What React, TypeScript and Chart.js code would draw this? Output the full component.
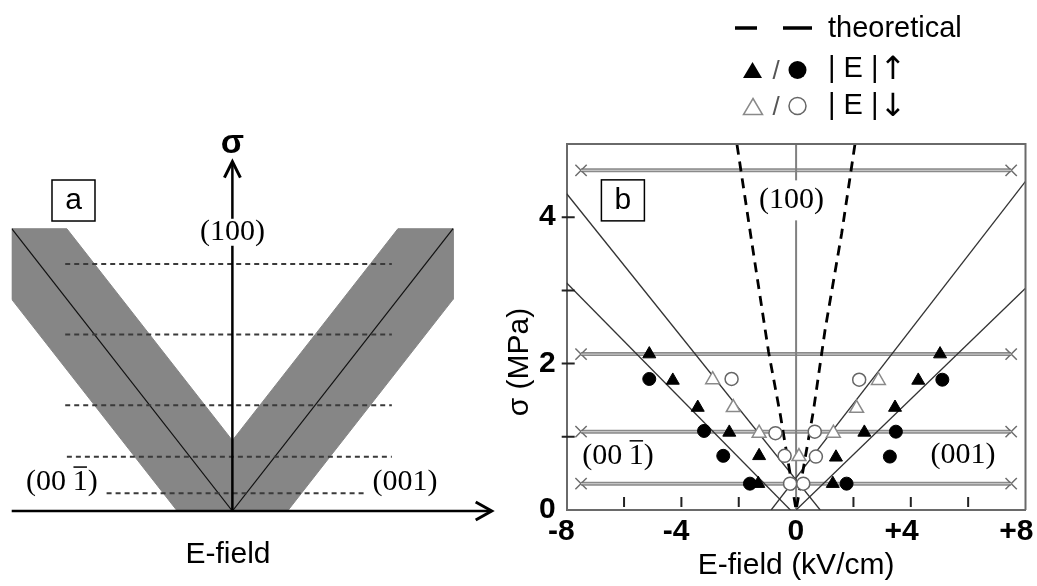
import React, { useEffect, useRef } from 'react';
import { Chart, registerables } from 'chart.js';

Chart.register(...registerables);

const SANS = "'Liberation Sans', Arial, sans-serif";
const SERIF = "'Liberation Serif', 'Times New Roman', serif";

// ================= Panel (a): schematic =================
const schemeBandE = [-4, -3, 0, 3, 4, 4, 1, -1, -4, -4];
const schemeBandSigma = [4, 4, 1, 4, 4, 3, 0, 0, 3, 4];
const schemeCenterLeftE = [-4, 0];
const schemeCenterLeftSigma = [4, 0];
const schemeCenterRightE = [0, 4];
const schemeCenterRightSigma = [0, 4];
const schemeLevelSigma = [3.5, 2.5, 1.5, 0.77, 0.25];
const schemeLevelFrom = [-3.03, -3.03, -3.03, -3.0, -2.28];
const schemeLevelTo = [2.89, 2.89, 2.89, 2.89, 2.41];

// ================= Panel (b): measurements =================
const xTickValues = [-8, -4, 0, 4, 8];
const xTickLabels = ['-8', '-4', '0', '+4', '+8'];
const yTickValues = [0, 2, 4];
const yTickLabels = ['0', '2', '4'];
const xMinorTicks = [-6, -4, -2, 2, 4, 6];
const yMinorTicks = [1, 2, 3, 4];

const stressLevels = [0.36, 1.07, 2.13, 4.64];
const stressLevelSpan = [-7.5, 7.5];

// |E| increasing
const riseTriE = [-5.12, -4.3, -3.43, -2.33, -1.29, -1.32, 5.02, 4.26, 3.45, 2.38, 1.39, 1.28];
const riseTriSigma = [2.13, 1.77, 1.4, 1.06, 0.74, 0.36, 2.13, 1.77, 1.4, 1.06, 0.72, 0.36];
const riseCircE = [-5.12, -3.21, -2.54, -1.61, 5.1, 3.48, 3.27, 1.76];
const riseCircSigma = [1.79, 1.08, 0.74, 0.36, 1.78, 1.07, 0.73, 0.36];
// |E| decreasing
const fallTriE = [-2.91, -2.19, -1.29, 0.1, 2.87, 2.11, 1.3];
const fallTriSigma = [1.78, 1.4, 1.05, 0.73, 1.77, 1.39, 1.05];
const fallCircE = [-2.25, -0.72, -0.4, -0.21, 2.2, 0.65, 0.69, 0.25];
const fallCircSigma = [1.79, 1.05, 0.74, 0.36, 1.78, 1.07, 0.73, 0.36];

// fitted boundaries
const fitOuterLeftE = [-8, 0.84];
const fitOuterLeftSigma = [4.32, 0];
const fitOuterRightE = [-0.87, 8];
const fitOuterRightSigma = [0, 4.49];
const fitInnerLeftE = [-8, -0.2];
const fitInnerLeftSigma = [3.1, 0];
const fitInnerRightE = [0, 8];
const fitInnerRightSigma = [0, 3.03];

// theoretical
const theoryLeftE = [-2.06, -1.57, -0.96, -0.55, 0];
const theoryLeftSigma = [4.99, 3.72, 2.16, 1.3, 0];
const theoryRightE = [2.05, 1.59, 1.01, 0.61, 0];
const theoryRightSigma = [4.99, 3.78, 2.46, 1.37, 0];

const pts = (xs: number[], ys: number[]) => xs.map((x, i) => ({ x, y: ys[i] }));

// ---------- helpers ----------
function drawBarredIndex(ctx: CanvasRenderingContext2D, cx: number, cy: number, size: number) {
  ctx.save();
  ctx.fillStyle = '#000';
  ctx.font = `${size}px ${SERIF}`;
  ctx.textAlign = 'left';
  ctx.textBaseline = 'middle';
  const p1 = '(00';
  const p2 = '1';
  const p3 = ')';
  const gap = size * 0.22;
  const w1 = ctx.measureText(p1).width;
  const w2 = ctx.measureText(p2).width;
  const w3 = ctx.measureText(p3).width;
  const total = w1 + gap + w2 + w3;
  const x0 = cx - total / 2;
  ctx.fillText(p1, x0, cy);
  const x1 = x0 + w1 + gap;
  ctx.fillText(p2, x1, cy);
  ctx.fillText(p3, x1 + w2, cy);
  ctx.lineWidth = 1.5;
  ctx.strokeStyle = '#000';
  ctx.beginPath();
  const by = cy - size * 0.5;
  ctx.moveTo(x1 + w2 * 0.05, by);
  ctx.lineTo(x1 + w2 * 0.95, by);
  ctx.stroke();
  ctx.restore();
}

function labelWithBox(ctx: CanvasRenderingContext2D, text: string, cx: number, cy: number, font: string, w: number, h: number, stroke: boolean) {
  ctx.save();
  ctx.fillStyle = '#fff';
  ctx.fillRect(cx - w / 2, cy - h / 2, w, h);
  if (stroke) {
    ctx.strokeStyle = '#000';
    ctx.lineWidth = 1.5;
    ctx.strokeRect(cx - w / 2, cy - h / 2, w, h);
  }
  ctx.fillStyle = '#000';
  ctx.font = font;
  ctx.textAlign = 'center';
  ctx.textBaseline = 'middle';
  ctx.fillText(text, cx, cy);
  ctx.restore();
}

function triangle(ctx: CanvasRenderingContext2D, cx: number, cy: number, w: number, h: number) {
  ctx.beginPath();
  ctx.moveTo(cx, cy - h / 2);
  ctx.lineTo(cx + w / 2, cy + h / 2);
  ctx.lineTo(cx - w / 2, cy + h / 2);
  ctx.closePath();
}

// ---------- panel (a) plugin ----------
const panelAPlugin = {
  id: 'panelAOverlay',
  afterDatasetsDraw(chart: any) {
    const { ctx, scales } = chart;
    const x = scales.x;
    const y = scales.y;
    const px = (e: number) => x.getPixelForValue(e);
    const py = (s: number) => y.getPixelForValue(s);
    const ox = px(0);
    const oy = py(0);
    const xEnd = px(x.max);
    const yTop = py(y.max);
    ctx.save();
    ctx.strokeStyle = '#000';
    ctx.lineWidth = 2.5;
    ctx.beginPath();
    ctx.moveTo(px(x.min), oy);
    ctx.lineTo(xEnd - 2, oy);
    ctx.moveTo(ox, oy);
    ctx.lineTo(ox, yTop + 2);
    ctx.stroke();
    ctx.lineWidth = 3;
    ctx.lineJoin = 'miter';
    ctx.beginPath();
    ctx.moveTo(xEnd - 16, oy - 9);
    ctx.lineTo(xEnd, oy);
    ctx.lineTo(xEnd - 16, oy + 9);
    ctx.stroke();
    ctx.beginPath();
    ctx.moveTo(ox - 8, yTop + 16);
    ctx.lineTo(ox, yTop);
    ctx.lineTo(ox + 8, yTop + 16);
    ctx.stroke();

    ctx.fillStyle = '#000';
    ctx.textAlign = 'center';
    ctx.textBaseline = 'middle';
    ctx.font = `bold 34px ${SANS}`;
    ctx.fillText('σ', ox, yTop - 18);

    labelWithBox(ctx, 'a', px(-2.88), py(4.4), `30px ${SANS}`, 43, 41, true);
    labelWithBox(ctx, '(100)', ox, py(3.95), `30px ${SERIF}`, 72, 27, false);
    drawBarredIndex(ctx, px(-3.09), py(0.41), 30);
    ctx.fillStyle = '#000';
    ctx.font = `30px ${SERIF}`;
    ctx.fillText('(001)', px(3.13), py(0.41));
    ctx.font = `30px ${SANS}`;
    ctx.fillText('E-field', px(-0.08), py(-0.62));
    ctx.restore();
  },
};

// ---------- panel (b) plugin ----------
const panelBPlugin = {
  id: 'panelBOverlay',
  afterDatasetsDraw(chart: any) {
    const { ctx, chartArea: ca, scales } = chart;
    const x = scales.x;
    const y = scales.y;
    const px = (e: number) => x.getPixelForValue(e);
    const py = (s: number) => y.getPixelForValue(s);
    ctx.save();
    // frame (top / right)
    ctx.strokeStyle = '#6a6a6a';
    ctx.lineWidth = 2;
    ctx.beginPath();
    ctx.moveTo(ca.left, ca.top);
    ctx.lineTo(ca.right, ca.top);
    ctx.lineTo(ca.right, ca.bottom);
    ctx.stroke();
    // minor ticks
    ctx.strokeStyle = '#222';
    ctx.lineWidth = 2;
    ctx.beginPath();
    xMinorTicks.forEach((v) => {
      const p = px(v);
      ctx.moveTo(p, ca.bottom - 13);
      ctx.lineTo(p, ca.bottom - 3);
    });
    yMinorTicks.forEach((v) => {
      const p = py(v);
      ctx.moveTo(ca.left - 5, p);
      ctx.lineTo(ca.left + 8, p);
    });
    ctx.stroke();

    // annotations
    labelWithBox(ctx, '(100)', px(-0.16), py(4.23), `30px ${SERIF}`, 69, 40, false);
    labelWithBox(ctx, 'b', px(-6.04), py(4.23), `30px ${SANS}`, 43, 41, true);
    drawBarredIndex(ctx, px(-6.21), py(0.74), 30);
    ctx.fillStyle = '#000';
    ctx.font = `30px ${SERIF}`;
    ctx.textAlign = 'center';
    ctx.textBaseline = 'middle';
    ctx.fillText('(001)', px(5.82), py(0.75));

    // y axis title
    ctx.save();
    ctx.translate(20, 362);
    ctx.rotate(-Math.PI / 2);
    ctx.font = `30px ${SANS}`;
    ctx.fillText('σ (MPa)', 0, 0);
    ctx.restore();

    // legend
    ctx.strokeStyle = '#000';
    ctx.lineWidth = 3.5;
    ctx.beginPath();
    ctx.moveTo(235, 28);
    ctx.lineTo(257, 28);
    ctx.moveTo(283, 28);
    ctx.lineTo(312, 28);
    ctx.stroke();
    ctx.textAlign = 'left';
    ctx.textBaseline = 'alphabetic';
    ctx.font = `29px ${SANS}`;
    ctx.fillStyle = '#000';
    ctx.fillText('theoretical', 328, 36.5);
    ctx.fillText('| E |', 328, 77);
    ctx.fillText('| E |', 328, 113.5);
    ctx.textAlign = 'center';
    ctx.font = `32px 'DejaVu Sans', ${SANS}`;
    ctx.fillText('↑', 393, 79);
    ctx.fillText('↓', 393, 116);

    triangle(ctx, 252.5, 70, 19, 16);
    ctx.fill();
    ctx.beginPath();
    ctx.arc(297.5, 70, 9, 0, Math.PI * 2);
    ctx.fill();
    ctx.fillStyle = '#555';
    ctx.font = `26px ${SANS}`;
    ctx.fillText('/', 276, 79);
    ctx.fillText('/', 276, 115);

    ctx.lineWidth = 1.5;
    ctx.strokeStyle = '#8a8a8a';
    triangle(ctx, 253, 106.5, 19, 16);
    ctx.stroke();
    ctx.strokeStyle = '#666';
    ctx.beginPath();
    ctx.arc(297.5, 106, 8.5, 0, Math.PI * 2);
    ctx.stroke();
    ctx.restore();
  },
};

function makePanelA(canvas: HTMLCanvasElement) {
  const datasets: any[] = [
    {
      data: pts(schemeBandE, schemeBandSigma),
      showLine: true,
      fill: 'shape',
      backgroundColor: '#868686',
      borderColor: '#868686',
      borderWidth: 1,
      pointRadius: 0,
      order: 10,
    },
    {
      data: pts(schemeCenterLeftE, schemeCenterLeftSigma),
      showLine: true,
      borderColor: '#111',
      borderWidth: 1.2,
      pointRadius: 0,
      fill: false,
      order: 5,
    },
    {
      data: pts(schemeCenterRightE, schemeCenterRightSigma),
      showLine: true,
      borderColor: '#111',
      borderWidth: 1.2,
      pointRadius: 0,
      fill: false,
      order: 5,
    },
    ...schemeLevelSigma.map((s, i) => ({
      data: [
        { x: schemeLevelFrom[i], y: s },
        { x: schemeLevelTo[i], y: s },
      ],
      showLine: true,
      borderColor: '#3a3a3a',
      borderWidth: 2,
      borderDash: [5, 4],
      pointRadius: 0,
      fill: false,
      order: 1,
    })),
  ];
  return new Chart(canvas, {
    type: 'scatter',
    data: { datasets },
    options: {
      responsive: false,
      animation: false,
      devicePixelRatio: 1,
      events: [],
      layout: { padding: { left: 11.7, right: 8.3, top: 161.7, bottom: 75 } },
      scales: {
        x: { type: 'linear', display: false, min: -4, max: 4.7 },
        y: { type: 'linear', display: false, min: 0, max: 4.95 },
      },
      plugins: { legend: { display: false }, tooltip: { enabled: false } },
    },
    plugins: [panelAPlugin],
  } as any);
}

function makePanelB(canvas: HTMLCanvasElement) {
  const lineDs = (xs: number[], ys: number[], color: string, width: number, order: number, dash: number[] = []) => ({
    data: pts(xs, ys),
    showLine: true,
    borderColor: color,
    borderWidth: width,
    borderDash: dash,
    pointRadius: 0,
    fill: false,
    order,
  });
  const datasets: any[] = [
    {
      label: '|E| ↑ (triangle)',
      data: pts(riseTriE, riseTriSigma),
      pointStyle: 'triangle',
      pointRadius: 7.5,
      backgroundColor: '#000',
      borderColor: '#000',
      borderWidth: 1,
      order: 0,
    },
    {
      label: '|E| ↑ (circle)',
      data: pts(riseCircE, riseCircSigma),
      pointStyle: 'circle',
      pointRadius: 6.5,
      backgroundColor: '#000',
      borderColor: '#000',
      borderWidth: 1,
      order: 0,
    },
    {
      label: '|E| ↓ (triangle)',
      data: pts(fallTriE, fallTriSigma),
      pointStyle: 'triangle',
      pointRadius: 8,
      backgroundColor: '#fff',
      borderColor: '#8a8a8a',
      borderWidth: 1.5,
      order: 0,
    },
    {
      label: '|E| ↓ (circle)',
      data: pts(fallCircE, fallCircSigma),
      pointStyle: 'circle',
      pointRadius: 6.5,
      backgroundColor: '#fff',
      borderColor: '#666',
      borderWidth: 1.5,
      order: 0,
    },
    lineDs(theoryLeftE, theoryLeftSigma, '#000', 2.8, 1, [10, 7]),
    lineDs(theoryRightE, theoryRightSigma, '#000', 2.8, 1, [10, 7]),
    lineDs(fitOuterLeftE, fitOuterLeftSigma, '#333', 1.3, 2),
    lineDs(fitOuterRightE, fitOuterRightSigma, '#333', 1.3, 2),
    lineDs(fitInnerLeftE, fitInnerLeftSigma, '#333', 1.3, 2),
    lineDs(fitInnerRightE, fitInnerRightSigma, '#333', 1.3, 2),
    lineDs([0, 0], [0, 5], '#808080', 2, 4),
    ...stressLevels.map((s) => ({
      data: stressLevelSpan.map((e) => ({ x: e, y: s })),
      showLine: true,
      borderColor: '#c4c4c4',
      borderWidth: 1.2,
      pointRadius: 0,
      fill: false,
      order: 5,
    })),
    ...stressLevels.map((s) => ({
      data: stressLevelSpan.map((e) => ({ x: e, y: s })),
      showLine: true,
      borderColor: '#8a8a8a',
      borderWidth: 4,
      pointStyle: 'crossRot',
      pointRadius: 8,
      pointBorderColor: '#6e6e6e',
      pointBorderWidth: 1.5,
      fill: false,
      order: 6,
    })),
  ];
  return new Chart(canvas, {
    type: 'scatter',
    data: { datasets },
    options: {
      responsive: false,
      animation: false,
      devicePixelRatio: 1,
      events: [],
      layout: { padding: { left: 0, right: 11.5, top: 144, bottom: 0 } },
      scales: {
        x: {
          type: 'linear',
          position: 'bottom',
          min: -8,
          max: 8,
          afterFit: (s: any) => {
            s.height = 76;
          },
          grid: { display: false, drawTicks: false },
          border: { display: true, color: '#6a6a6a', width: 2 },
          ticks: {
            stepSize: 2,
            autoSkip: false,
            maxRotation: 0,
            align: 'end',
            labelOffset: 8,
            padding: 4,
            color: '#000',
            font: { family: SANS, size: 30, weight: 'bold' },
            callback: (v: any) => {
              const i = xTickValues.indexOf(Number(v));
              return i >= 0 ? xTickLabels[i] : '';
            },
          },
          title: {
            display: true,
            text: 'E-field (kV/cm)',
            color: '#000',
            font: { family: SANS, size: 30 },
            padding: { top: 0, bottom: 2 },
          },
        },
        y: {
          type: 'linear',
          position: 'left',
          min: 0,
          max: 5,
          afterFit: (s: any) => {
            s.width = 66.7;
          },
          grid: { display: false, drawTicks: false },
          border: { display: true, color: '#6a6a6a', width: 2 },
          ticks: {
            stepSize: 1,
            autoSkip: false,
            padding: 11,
            color: '#000',
            font: { family: SANS, size: 30, weight: 'bold' },
            callback: (v: any) => {
              const i = yTickValues.indexOf(Number(v));
              return i >= 0 ? yTickLabels[i] : '';
            },
          },
          title: { display: false },
        },
      },
      plugins: { legend: { display: false }, tooltip: { enabled: false } },
    },
    plugins: [panelBPlugin],
  } as any);
}

export default function App() {
  const refA = useRef<HTMLCanvasElement>(null);
  const refB = useRef<HTMLCanvasElement>(null);
  useEffect(() => {
    const a = makePanelA(refA.current!);
    const b = makePanelB(refB.current!);
    return () => {
      a.destroy();
      b.destroy();
    };
  }, []);
  return (
    <div style={{ position: 'fixed', left: 0, top: 0, width: 1037, height: 586, background: '#fff', overflow: 'hidden' }}>
      <canvas ref={refA} width={500} height={586} style={{ position: 'absolute', left: 0, top: 0 }} />
      <canvas ref={refB} width={537} height={586} style={{ position: 'absolute', left: 500, top: 0 }} />
    </div>
  );
}
